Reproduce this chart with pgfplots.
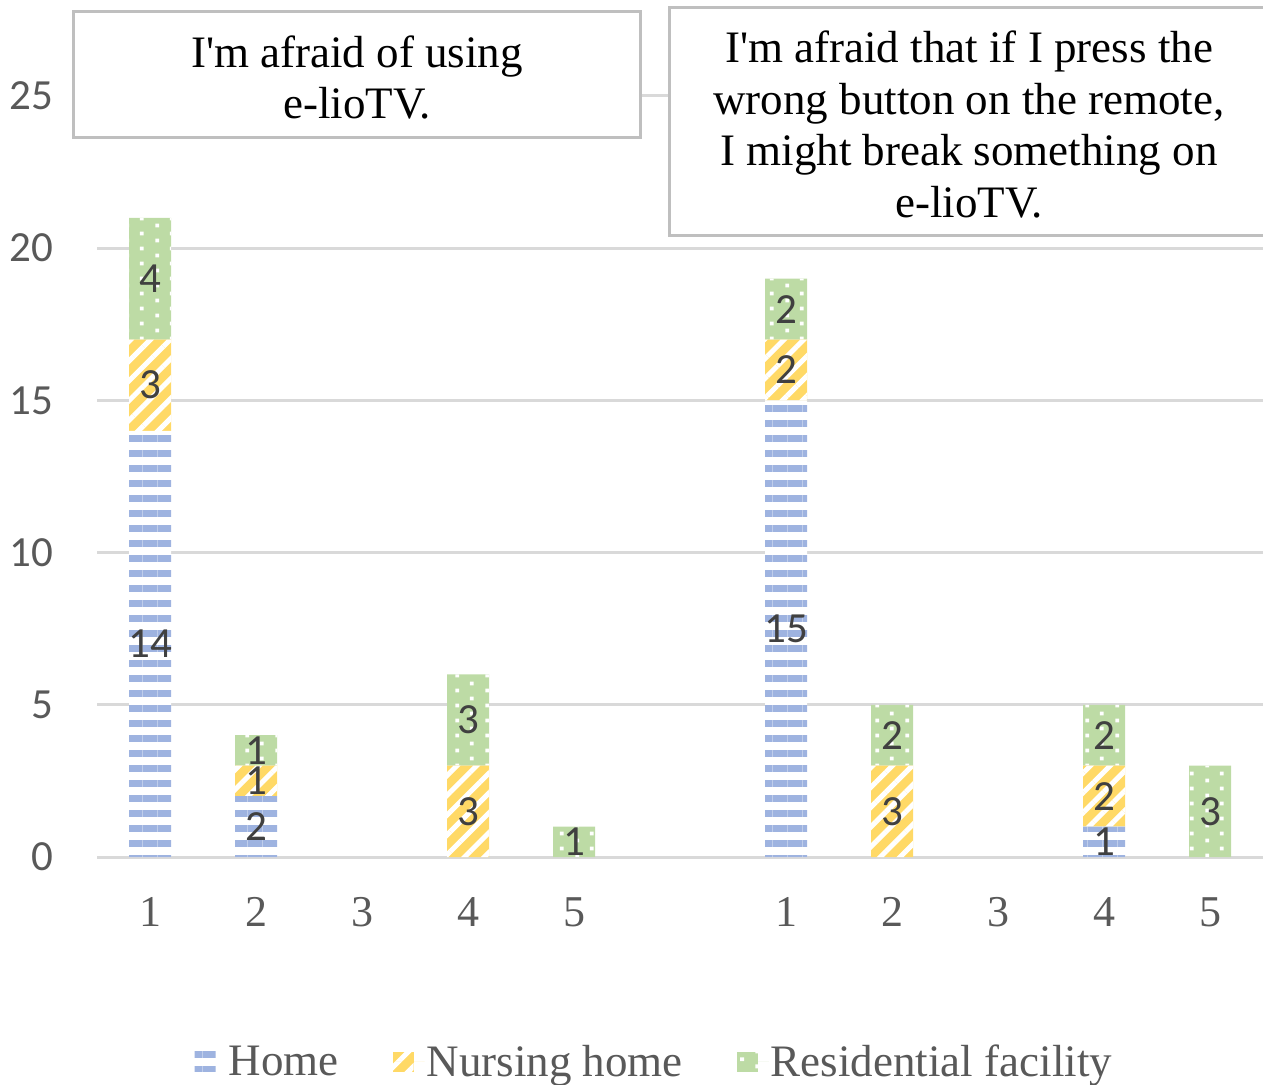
\documentclass[border=0pt]{standalone}
\usepackage{pgfplots}
\pgfplotsset{compat=1.18}
\usepackage{fontspec}
\setmainfont{Liberation Serif}
\newfontfamily\calibri{Carlito}
\usetikzlibrary{patterns.meta}

\definecolor{homeblue}{HTML}{9EB3E0}
\definecolor{nursyellow}{HTML}{FFD966}
\definecolor{resgreen}{HTML}{BDDBA5}
\definecolor{gridgray}{HTML}{D9D9D9}
\definecolor{boxgray}{HTML}{BFBFBF}
\definecolor{ticktext}{HTML}{595959}
\definecolor{labeltext}{HTML}{404040}

\tikzdeclarepattern{
  name=stagdots, type=uncolored,
  bottom left={(0pt,0pt)}, top right={(30pt,15pt)}, tile size={(30pt,15pt)},
  code={
    \fill (5.5pt,1.75pt) rectangle (9.5pt,5.75pt);
    \fill (20.5pt,9.25pt) rectangle (24.5pt,13.25pt);
  }
}

\tikzset{
  homestyle/.style={fill=white, draw=none, postaction={pattern={Lines[angle=0,distance=15pt,line width=7pt]}, pattern color=homeblue}},
  nursstyle/.style={fill=nursyellow, draw=none, postaction={pattern={Lines[angle=45,distance=14pt,line width=5pt]}, pattern color=white}},
  resstyle/.style={fill=resgreen, draw=none, postaction={pattern=stagdots, pattern color=white}},
}

\begin{document}
\begin{tikzpicture}
\path[use as bounding box] (0pt,0pt) rectangle (1263pt,1084pt);

\begin{axis}[
  at={(97pt,227pt)}, anchor=south west,
  width=1166pt, height=761pt, scale only axis,
  ybar stacked, bar width=42pt,
  xmin=-0.5, xmax=10.5, ymin=0, ymax=25,
  xtick={0,1,2,3,4,6,7,8,9,10}, xticklabels={1,2,3,4,5,1,2,3,4,5},
  ytick={0,5,10,15,20,25}, yticklabels={0,5,10,15,20,25},
  axis line style={draw=none}, major tick length=0pt,
  ymajorgrids, major grid style={draw=gridgray, line width=3pt},
  xticklabel style={font=\fontsize{44}{44}\selectfont, text=ticktext, anchor=north, inner sep=0pt, yshift=-40pt},
  yticklabel style={font=\calibri\fontsize{43}{43}\selectfont, text=ticktext, anchor=east, inner sep=0pt, xshift=-44pt},
  legend columns=3,
  legend style={at={(0.478,-0.269)}, anchor=center, draw=none, fill=none,
    font=\fontsize{45}{45}\selectfont\color{ticktext},
    /tikz/every even column/.append style={column sep=52pt}},
  legend image code/.code={\path[#1] (0pt,-10pt) rectangle (21pt,10pt);\path (0pt,0pt) -- (32pt,0pt);},
  clip=false,
]
\addplot[homestyle] coordinates {(0,14) (1,2) (2,0) (3,0) (4,0) (6,15) (7,0) (8,0) (9,1) (10,0)};
\addlegendentry{Home}
\addplot[nursstyle] coordinates {(0,3) (1,1) (2,0) (3,3) (4,0) (6,2) (7,3) (8,0) (9,2) (10,0)};
\addlegendentry{Nursing home}
\addplot[resstyle] coordinates {(0,4) (1,1) (2,0) (3,3) (4,1) (6,2) (7,2) (8,0) (9,2) (10,3)};
\addlegendentry{Residential facility}
\end{axis}

\begin{axis}[
  at={(97pt,227pt)}, anchor=south west,
  width=1166pt, height=761pt, scale only axis,
  xmin=-0.5, xmax=10.5, ymin=0, ymax=25,
  hide axis, clip=false,
]
\addplot[draw=none, mark=none, nodes near coords, point meta=explicit symbolic,
  every node near coord/.append style={font=\calibri\fontsize{43}{43}\selectfont, text=labeltext, anchor=center, inner sep=0pt}]
  coordinates {
  (0,7)[14] (1,1)[2] (6,7.5)[15] (9,0.5)[1]
  (0,15.5)[3] (1,2.5)[1] (3,1.5)[3] (6,16)[2] (7,1.5)[3] (9,2)[2]
  (0,19)[4] (1,3.5)[1] (3,4.5)[3] (4,0.5)[1] (6,18)[2] (7,4)[2] (9,4)[2] (10,1.5)[3]
  };
\end{axis}

\draw[boxgray, line width=3pt, fill=white] (73pt,946pt) rectangle (640pt,1072pt);
\node[align=center, font=\fontsize{45}{51.5}\selectfont, text=black, inner sep=0pt] at (357pt,1006.5pt)
  {I\textquotesingle m afraid of using\\e-lioTV.};
\draw[boxgray, line width=3pt, fill=white] (669pt,848pt) rectangle (1264pt,1076pt);
\node[align=center, font=\fontsize{45}{51.5}\selectfont, text=black, inner sep=0pt] at (969pt,959.5pt)
  {I\textquotesingle m afraid that if I press the\\wrong button on the remote,\\I might break something on\\e-lioTV.};
\end{tikzpicture}
\end{document}
